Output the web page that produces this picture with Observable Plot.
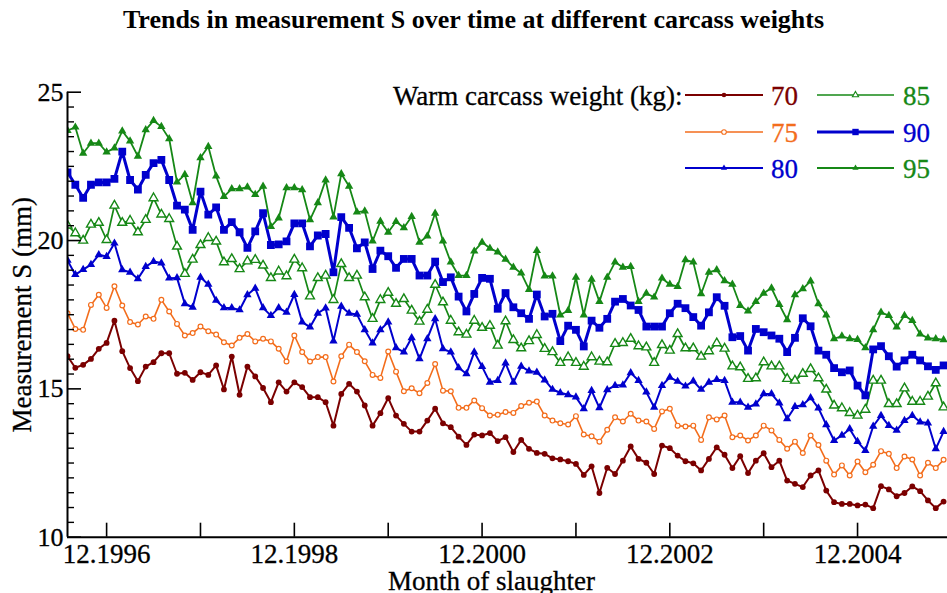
<!DOCTYPE html>
<html><head><meta charset="utf-8">
<script src="https://cdn.jsdelivr.net/npm/d3@7"></script>
<script src="https://cdn.jsdelivr.net/npm/@observablehq/plot@0.6"></script>
<style>
body{margin:0;background:#fff;}
#wrap{position:relative;width:947px;height:593px;overflow:hidden;background:#fff;}
#title{height:50px;box-sizing:border-box;padding-top:9px;text-align:center;font:bold 26px/22px "Liberation Serif",serif;white-space:nowrap;color:#000;}
#legend{position:absolute;left:0;top:0;}
#chart text{stroke:#000;stroke-width:0.3px;}
</style></head>
<body><div id="wrap"><div id="title">Trends in measurement S over time at different carcass weights</div><div id="chart"></div></div>
<script>
// ---- data (monthly, July 1996 .. November 2005) ----
const startYear = 1996, startMonth = 7; // first month of the series
const weights = ["70", "75", "80", "85", "90", "95"];
const s70 = [16.10,15.71,15.81,16.01,16.35,16.55,17.30,16.27,15.70,15.26,15.75,15.90,16.20,16.20,15.51,15.54,15.30,15.56,15.47,15.79,14.98,16.09,14.80,15.75,15.42,15.03,14.55,15.22,14.91,
 15.22,15.06,14.72,14.72,14.55,13.76,14.83,15.17,14.91,14.44,13.76,14.18,14.69,14.10,13.82,13.56,13.56,13.93,14.33,13.84,13.71,13.39,13.11,13.46,13.43,13.51,13.24,13.37,
 12.87,13.28,12.98,12.84,12.81,12.66,12.62,12.56,12.47,12.10,12.39,11.49,12.34,12.13,12.58,13.06,12.64,12.51,12.13,13.09,13.00,12.75,12.56,12.49,12.25,12.64,13.03,12.78,
 12.33,12.73,12.16,12.58,12.83,12.36,12.58,11.91,11.80,11.69,12.08,12.25,11.57,11.18,11.12,11.12,11.07,11.10,10.98,11.72,11.61,11.38,11.49,11.71,11.55,11.24,10.98,11.20];
const s75 = [17.55,17.02,16.99,17.83,18.17,17.73,18.46,17.81,17.25,17.17,17.44,17.36,18.00,17.61,17.19,16.80,16.88,17.10,16.94,16.83,16.57,16.46,16.72,16.85,16.60,16.69,16.60,16.35,15.92,
 16.80,16.24,15.92,16.07,16.07,15.25,16.10,16.49,16.24,15.93,15.47,15.37,16.26,15.58,14.92,15.02,14.85,15.20,15.84,14.94,14.92,14.36,14.36,14.61,14.35,14.10,14.13,14.22,
 14.19,14.42,14.53,14.57,14.10,13.93,13.84,13.80,14.08,13.46,13.40,13.22,13.62,14.04,13.90,14.16,13.93,13.90,13.65,14.24,14.33,13.76,13.73,13.76,13.28,14.04,13.97,14.10,
 13.37,13.43,13.26,13.43,13.76,13.60,13.28,12.98,13.22,12.84,13.43,13.11,12.58,12.11,12.42,12.08,12.55,12.19,12.44,12.90,12.81,12.33,12.72,12.62,12.08,12.51,12.33,12.61];
const s80 = [19.33,18.85,19.02,19.19,19.52,19.46,19.91,19.01,18.93,18.71,19.12,19.29,19.24,18.73,18.74,17.87,17.75,18.76,18.52,17.98,17.73,17.73,17.66,18.17,18.39,17.73,17.47,17.73,17.58,
 18.18,17.25,17.08,17.55,17.72,16.61,17.78,17.55,17.51,16.99,16.54,16.99,17.25,16.38,16.24,16.72,16.01,16.69,17.36,16.35,16.24,15.71,15.51,16.24,15.75,15.22,15.28,15.87,
 15.22,15.76,15.60,15.56,15.30,14.98,14.87,14.80,14.72,14.33,14.94,14.36,14.97,15.11,15.13,15.54,15.28,14.89,14.38,15.11,15.39,15.25,15.09,15.26,14.98,15.22,15.31,15.28,
 14.55,14.55,14.38,14.49,14.83,14.83,14.52,13.99,14.40,14.46,14.70,14.35,13.79,13.26,13.43,13.65,13.22,12.92,13.74,14.10,13.76,13.60,13.93,14.10,13.88,13.85,12.98,13.56];
const s85 = [20.51,20.25,20.00,20.54,20.60,20.02,21.18,20.60,20.67,20.28,20.70,21.43,20.88,20.73,19.80,18.88,19.36,19.85,20.09,19.97,19.27,19.38,19.04,19.30,19.35,19.16,18.74,18.96,18.80,
 19.36,19.07,18.12,18.74,18.82,18.00,19.21,18.74,18.82,18.09,17.36,18.00,18.24,17.87,18.03,17.64,17.27,17.67,18.51,17.92,17.30,16.91,16.83,17.30,17.06,17.13,16.46,17.28,
 16.65,16.37,16.61,16.82,16.35,16.24,15.88,16.07,15.88,15.75,16.07,15.92,15.90,16.52,16.55,16.69,16.44,16.40,15.88,16.48,16.29,16.85,16.37,16.37,16.09,16.27,16.54,16.36,
 15.76,15.73,15.34,15.36,15.90,15.76,15.76,15.34,15.28,15.51,15.67,15.36,14.98,14.44,14.35,14.19,14.10,14.30,15.28,15.28,14.49,14.49,15.02,14.57,14.57,14.74,15.19,14.38];
const s90 = [22.30,21.88,21.44,21.88,21.96,21.96,22.08,23.00,22.04,21.72,22.21,22.61,22.72,22.04,21.18,21.04,20.36,21.65,20.87,21.12,20.36,20.62,20.28,19.75,20.31,20.92,19.85,19.87,19.97,
 20.58,20.58,19.80,20.17,20.22,18.93,20.79,20.43,19.74,19.94,19.04,19.66,19.47,19.08,19.38,19.38,18.82,18.82,19.29,18.60,18.76,18.11,17.61,18.20,18.74,18.71,17.70,18.23,
 17.75,17.55,17.36,18.18,17.44,17.53,16.61,17.13,16.99,16.43,17.30,17.06,17.36,17.94,18.03,17.81,17.66,17.10,17.10,17.10,17.55,17.87,17.72,17.42,17.13,17.58,18.09,17.80,
 16.74,16.78,16.29,17.02,16.91,16.80,16.69,16.24,16.72,17.38,17.11,16.29,16.15,15.70,15.56,15.62,15.11,14.78,16.33,16.44,16.10,15.75,15.96,16.15,15.96,15.76,15.64,15.79];
const s95 = [23.71,23.82,22.94,23.28,23.28,22.98,23.12,23.69,23.35,22.84,23.73,24.04,23.84,23.43,21.97,22.22,21.27,22.79,23.17,22.17,21.48,21.74,21.74,21.80,21.55,21.83,20.47,20.76,21.78,
 21.78,21.71,20.70,21.27,22.04,20.79,22.25,21.83,20.96,20.99,19.98,20.65,20.28,20.64,20.43,20.81,19.94,20.15,20.92,19.98,19.27,18.82,18.82,19.64,19.94,19.74,19.61,19.37,
 19.10,18.90,18.35,19.66,18.80,18.80,17.49,17.64,18.76,17.49,18.69,17.94,18.76,19.27,19.10,19.12,17.94,18.22,18.09,18.73,18.52,18.45,19.35,19.27,18.20,18.93,19.01,18.64,
 18.52,17.81,17.62,17.94,18.22,18.40,17.84,17.33,18.17,18.37,18.63,17.87,17.49,16.69,16.78,16.69,16.66,16.38,16.99,17.58,17.47,17.08,17.47,17.30,16.85,16.71,16.69,16.65];
const xTickYears = [1996, 1997, 1998, 1999, 2000, 2001, 2002, 2003, 2004];     // December ticks
const xTickLabels = ["12.1996", "12.1998", "12.2000", "12.2002", "12.2004"];
const xLabelYears = [1996, 1998, 2000, 2002, 2004];
const yTicksMajor = [10, 15, 20, 25];
const yLabel = "Measurement S (mm)";
const xLabel = "Month of slaughter";
const legendTitle = "Warm carcass weight (kg):";

// ---- styling per series ----
const maroon = "#7b0000", orange = "#f36d1c", blue = "#0000cd", green = "#168816";
const styles = {
  "70": {color: maroon, lw: 2, symbol: "circle", r: 2.9, fill: maroon, sw: 0},
  "75": {color: orange, lw: 1.6, symbol: "circle", r: 2.4, fill: "white", sw: 1.2},
  "80": {color: blue, lw: 2, symbol: "triangle", r: 3.1, fill: blue, sw: 0},
  "85": {color: green, lw: 1.7, symbol: "triangle", r: 3.3, fill: "white", sw: 1.4},
  "90": {color: blue, lw: 3, symbol: "square", r: 4.4, fill: blue, sw: 0},
  "95": {color: green, lw: 1.8, symbol: "triangle", r: 3.1, fill: green, sw: 0}
};
const seriesValues = {"70": s70, "75": s75, "80": s80, "85": s85, "90": s90, "95": s95};

const monthX = i => startYear + (startMonth - 1 + i) / 12;
const decX = yr => yr + 11 / 12;
const x0 = monthX(0), xEnd = monthX(112.5);
const labelMap = new Map(xLabelYears.map((y, i) => [decX(y), xTickLabels[i]]));
const yMinor = d3.range(20, 51).map(k => k / 2).filter(v => v % 5 !== 0);

const W = 947, H = 543, mL = 67, mR = 0, mT = 41.7, mB = 56.3;
const plotW = W - mL - mR, plotH = H - mT - mB;

const marks = [];
for (const k of weights) {
  const st = styles[k];
  const rows = seriesValues[k].map((v, i) => ({x: monthX(i), y: v}));
  marks.push(Plot.line(rows, {x: "x", y: "y", stroke: st.color, strokeWidth: st.lw, clip: true}));
  marks.push(Plot.dot(rows, {x: "x", y: "y", symbol: st.symbol, r: st.r, fill: st.fill,
    stroke: st.sw ? st.color : "none", strokeWidth: st.sw, clip: true}));
}

const chart = Plot.plot({
  width: W, height: H,
  marginLeft: mL, marginRight: mR, marginTop: mT, marginBottom: mB,
  x: {domain: [x0, xEnd]},
  y: {domain: [10, 25]},
  style: {fontFamily: '"Liberation Serif", serif', fontSize: "26px", color: "#000", background: "#fff"},
  marks: [
    ...marks,
    Plot.ruleX([x0], {stroke: "#000", strokeWidth: 2}),
    Plot.ruleY([10], {stroke: "#000", strokeWidth: 2}),
    Plot.tickY(yTicksMajor, {y: d => d, stroke: "#000", strokeWidth: 1.6, insetRight: plotW - 14}),
    Plot.tickY(yMinor, {y: d => d, stroke: "#000", strokeWidth: 1.4, insetRight: plotW - 7}),
    Plot.tickX(xTickYears.map(decX), {x: d => d, stroke: "#000", strokeWidth: 1.6, insetTop: plotH - 14}),
    Plot.axisY({ticks: yTicksMajor, tickSize: 0, tickPadding: 4, fontSize: 26, label: null}),
    Plot.axisX({ticks: xLabelYears.map(decX), tickSize: 0, tickPadding: 7, fontSize: 27, label: null,
      tickFormat: d => labelMap.get(d)}),
    Plot.text([yLabel], {frameAnchor: "left", textAnchor: "middle", rotate: -90, dx: -37, lineAnchor: "bottom", fontSize: 27, fill: "#000"}),
    Plot.text([xLabel], {frameAnchor: "bottom", textAnchor: "middle", dx: -16, dy: 52.5, lineAnchor: "bottom", fontSize: 27, fill: "#000"})
  ]
});
document.getElementById("chart").appendChild(chart);

// ---- legend (overlay, page coordinates) ----
const lg = d3.select("#wrap").append("svg").attr("id", "legend").attr("width", W).attr("height", 200)
  .style("font-family", '"Liberation Serif", serif');
lg.append("text").attr("x", 393).attr("y", 105).attr("font-size", 27).attr("fill", "#000")
  .attr("stroke", "#000").attr("stroke-width", 0.3).text(legendTitle);
const legendPos = {"70": [0, 0], "75": [0, 1], "80": [0, 2], "85": [1, 0], "90": [1, 1], "95": [1, 2]};
const colX = [[685, 763, 771], [817, 894, 903]];
const rowY = [95, 132, 168];
const symMap = {circle: d3.symbolCircle, triangle: d3.symbolTriangle, square: d3.symbolSquare};
for (const k of weights) {
  const st = styles[k];
  const [c, r] = legendPos[k];
  const [xa, xb, xt] = colX[c];
  const y = rowY[r];
  lg.append("line").attr("x1", xa).attr("x2", xb).attr("y1", y).attr("y2", y)
    .attr("stroke", st.color).attr("stroke-width", st.lw);
  const rr = st.symbol === "square" ? 3.6 : 2.3;
  lg.append("path").attr("transform", `translate(${(xa + xb) / 2},${y})`)
    .attr("d", d3.symbol(symMap[st.symbol], Math.PI * rr * rr)())
    .attr("fill", st.fill).attr("stroke", st.sw ? st.color : "none").attr("stroke-width", 1.1);
  lg.append("text").attr("x", xt).attr("y", y + 10).attr("font-size", 27).attr("fill", st.color)
    .attr("stroke", st.color).attr("stroke-width", 0.3).text(k);
}
</script>
</body></html>
